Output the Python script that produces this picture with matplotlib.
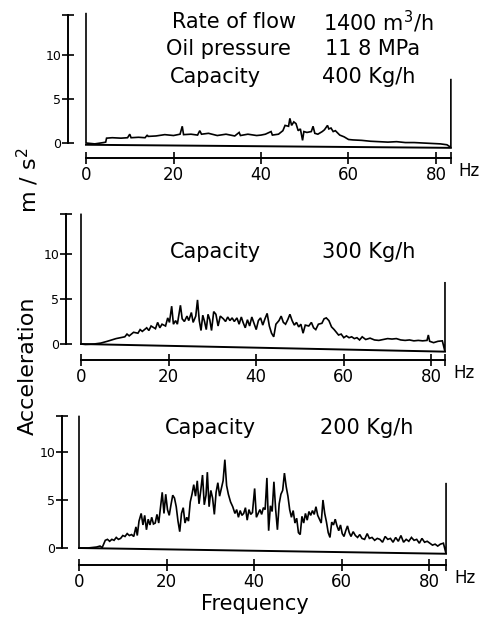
import matplotlib
matplotlib.use("Agg")
import matplotlib.pyplot as plt

W, H = 487, 619

# ---- data: acceleration spectra (m/s^2) ----
# panel 1: capacity 400 Kg/h
freq_400 = [0, 0, 2, 4, 4.5, 4.7, 6, 8, 9.5, 10,
            10.3, 12, 13.5, 14, 14.2, 16, 18, 20, 21.5, 22,
            22.3, 24, 25.5, 26, 26.4, 28, 30, 32, 34, 35,
            35.3, 37, 39, 40, 41, 42.3, 42.6, 44, 45, 45.5,
            46.3, 46.6, 47, 47.5, 48, 48.5, 49, 49.5, 49.8, 50.5,
            51.5, 51.9, 52.3, 53, 54, 54.5, 55.2, 55.5, 56, 56.5,
            57, 58, 59, 60, 61, 63, 65, 67, 69, 71,
            73, 75, 77, 79, 81, 82.5, 83.4, 83.4]
acc_400 = [14.7, 0.0, -0.1, 0.05, 0.1, 0.55, 0.6, 0.55, 0.6, 1.0,
           0.6, 0.65, 0.6, 0.9, 0.75, 0.8, 0.95, 0.85, 1.0, 1.9,
           0.95, 1.0, 0.9, 1.4, 1.0, 1.1, 0.85, 1.0, 0.8, 1.2,
           0.85, 1.0, 0.85, 0.9, 1.0, 1.3, 0.9, 1.0, 1.4, 2.0,
           1.9, 2.8, 2.0, 2.4, 2.2, 1.4, 1.6, 0.3, 1.3, 1.2,
           1.3, 1.9, 1.1, 1.0, 1.3, 1.5, 2.0, 1.6, 1.7, 1.3,
           1.4, 0.9, 0.7, 0.4, 0.35, 0.3, 0.2, 0.15, 0.1, 0.15,
           0.05, 0.05, 0.0, -0.05, -0.1, -0.2, -0.5, 7.2]

# panel 2: capacity 300 Kg/h
freq_300 = [0, 0, 1, 3, 4.5, 6, 8, 10, 10.5, 11,
            12, 13, 13.5, 14, 15, 15.5, 16, 17, 17.5, 18,
            18.5, 19.3, 19.8, 20.2, 20.7, 21.1, 21.6, 22, 22.7, 23.1,
            23.6, 24.2, 24.6, 25.2, 25.6, 26.2, 26.6, 27, 27.4, 27.8,
            28.2, 28.6, 29, 29.4, 29.8, 30.3, 30.8, 31.3, 31.8, 32.5,
            33, 33.5, 34, 34.5, 35, 35.6, 36.1, 36.6, 37, 37.5,
            38, 38.5, 39, 39.5, 40, 40.5, 41, 41.5, 42, 42.5,
            43, 43.5, 44, 44.5, 45.2, 45.7, 46.2, 46.7, 47.2, 47.7,
            48.2, 48.7, 49.2, 49.7, 50.2, 50.7, 51.2, 52, 52.6, 53.1,
            53.6, 54.2, 55, 55.5, 56, 56.6, 57.2, 57.8, 58.3, 58.8,
            59.4, 60, 60.6, 61.2, 61.8, 62.4, 63, 63.6, 64.2, 65,
            66, 67, 68, 69, 70, 71, 72, 73, 74, 75,
            76, 77, 78, 79, 79.3, 79.6, 80.5, 81.5, 82.5, 83.1,
            83.1]
acc_300 = [14.4, 0.0, -0.05, 0.0, 0.1, 0.3, 0.6, 0.8, 1.1, 0.9,
           1.3, 1.2, 1.6, 1.4, 1.8, 1.5, 2.0, 1.7, 2.4, 1.8,
           2.2, 2.0, 2.9, 2.4, 4.2, 2.2, 2.6, 2.2, 4.3, 2.8,
           2.5, 3.1, 2.6, 3.5, 2.4, 3.1, 4.9, 2.6, 1.5, 3.2,
           2.5, 1.6, 3.3, 2.7, 1.5, 3.6, 3.3, 2.0, 3.1, 2.8,
           2.5, 3.0, 2.6, 2.9, 2.5, 2.9, 2.2, 3.0, 2.4, 1.8,
           2.7, 2.0, 3.0, 2.3, 1.6, 2.6, 2.9, 2.1, 2.8, 3.4,
           2.0, 1.2, 0.8, 2.2, 2.6, 3.1, 2.4, 2.2, 2.7, 3.3,
           2.6, 2.1, 2.4, 1.9, 2.2, 1.2, 2.1, 2.0, 2.4, 1.8,
           1.6, 2.2, 2.3, 2.8, 2.9, 2.6, 1.9, 1.6, 1.3, 1.0,
           1.1, 0.7, 0.9, 0.7, 0.8, 0.6, 0.7, 0.45, 0.8, 0.5,
           0.65, 0.45, 0.4, 0.5, 0.6, 0.55, 0.6, 0.45, 0.4, 0.45,
           0.35, 0.4, 0.35, 0.4, 1.0, 0.3, 0.15, 0.3, 0.35, -0.85,
           6.8]

# panel 3: capacity 200 Kg/h
freq_200 = [0, 0, 2, 4, 4.8, 5.3, 6, 6.5, 7, 7.5,
            8, 8.5, 9, 9.5, 10, 10.5, 11, 11.5, 12, 12.5,
            13, 13.3, 13.7, 14.2, 14.6, 15, 15.4, 15.8, 16.2, 16.6,
            17, 17.4, 17.8, 18.2, 18.6, 19, 19.4, 19.8, 20.2, 20.6,
            21, 21.4, 21.8, 22.2, 22.6, 23, 23.4, 23.8, 24.2, 24.6,
            25, 25.4, 25.8, 26.2, 26.6, 27, 27.4, 27.8, 28.2, 28.6,
            29, 29.3, 29.7, 30.1, 30.5, 30.9, 31.3, 31.7, 32.1, 32.5,
            32.9, 33.3, 33.7, 34.1, 34.6, 35.1, 35.6, 36, 36.4, 36.8,
            37.2, 37.6, 38, 38.4, 38.8, 39.2, 39.6, 40.1, 40.5, 40.9,
            41.3, 41.7, 42.1, 42.5, 42.9, 43.3, 43.7, 44.1, 44.5, 44.9,
            45.3, 45.7, 46.1, 46.5, 46.9, 47.3, 47.7, 48.1, 48.5, 48.9,
            49.3, 49.7, 50.1, 50.5, 50.9, 51.3, 51.7, 52.1, 52.5, 52.9,
            53.3, 53.7, 54.1, 54.5, 54.9, 55.3, 55.7, 56.1, 56.5, 56.9,
            57.3, 57.7, 58.1, 58.5, 58.9, 59.3, 59.7, 60.1, 60.5, 60.9,
            61.3, 61.7, 62.1, 62.6, 63.1, 63.6, 64.1, 64.6, 65.2, 65.8,
            66.3, 66.9, 67.5, 68.1, 68.7, 69.3, 69.9, 70.5, 71.1, 71.7,
            72.3, 72.9, 73.5, 74.1, 74.7, 75.3, 75.9, 76.5, 77.1, 77.7,
            78.3, 78.9, 79.5, 80.1, 80.7, 81.3, 81.9, 82.5, 83.2, 83.8,
            83.8]
acc_200 = [13.7, 0.0, 0.0, 0.1, 0.2, 0.05, 0.8, 0.9, 0.7, 0.9,
           0.8, 1.1, 0.9, 1.0, 1.3, 1.2, 1.5, 1.3, 1.4, 1.2,
           2.2, 1.3, 2.8, 3.6, 2.4, 3.4, 1.9, 3.0, 2.4, 3.2,
           2.5, 2.6, 3.5, 2.6, 4.2, 5.8, 3.6, 5.6, 4.0, 3.4,
           4.5, 5.5, 5.2, 4.3, 2.8, 1.7, 3.6, 4.2, 2.6, 3.2,
           2.8, 4.8, 5.6, 6.6, 5.4, 7.0, 4.6, 6.0, 7.6, 4.5,
           5.5, 7.9, 4.3, 6.0, 5.2, 3.5, 5.8, 6.8, 5.4, 6.2,
           7.0, 9.2, 6.5, 5.6, 4.8, 4.3, 3.6, 4.0, 3.2, 3.9,
           3.4, 3.6, 4.2, 2.9, 4.0, 3.5, 3.7, 6.2, 3.2, 3.6,
           4.0, 3.5, 4.2, 4.0, 7.3, 1.8, 4.4, 3.8, 6.9, 4.0,
           1.9, 4.6, 5.6, 6.0, 7.8, 6.4, 5.4, 4.0, 3.2, 3.9,
           2.6, 3.1, 1.6, 1.4, 3.3, 2.6, 3.6, 2.9, 3.8, 3.4,
           3.9, 3.5, 4.3, 3.4, 3.0, 2.6, 5.0, 3.6, 2.7, 1.6,
           1.1, 2.7, 2.4, 3.0, 2.3, 1.8, 2.4, 1.5, 1.2, 1.8,
           2.3, 1.6, 1.2, 1.7, 1.3, 1.1, 1.4, 1.0, 0.9, 1.5,
           1.0, 1.1, 0.8, 1.0, 0.9, 0.6, 1.2, 0.9, 1.0, 0.6,
           1.1, 0.7, 1.3, 0.6, 0.9, 0.7, 1.1, 0.8, 0.9, 0.5,
           1.0, 0.6, 0.7, 0.5, 0.3, 0.4, 0.2, 0.4, 0.5, -0.6,
           6.7]

# sloping zero lines drawn under each trace
base_400 = [-0.2, -0.55]
base_300 = [0.0, -0.85]
base_200 = [0.0, -0.6]

freq_ticks = [0, 20, 40, 60, 80]
acc_ticks = [0, 5, 10]

# ---- layout (pixels in the 487x619 picture) ----
# x_zero, px_per_hz, y_zero, px_per_unit, axis_x, ruler_y, top_y, f_end
layouts = [
    (86, 4.375, 143, 8.8, 68, 158, 15, 83.4),
    (81, 4.38, 344, 9.0, 66, 360, 214, 83.1),
    (79, 4.38, 548, 9.6, 62, 565, 416, 83.8),
]
traces = [(freq_400, acc_400, base_400),
          (freq_300, acc_300, base_300),
          (freq_200, acc_200, base_200)]

fig = plt.figure(figsize=(W / 100, H / 100), dpi=100)

for (x0, phz, y0, pu, axx, ry, ty, fend), (fr, ac, base) in zip(layouts, traces):
    xmin = -(x0 - axx) / phz
    xmax = fend + 3.5
    ymin = -(ry - y0) / pu
    ytop = (y0 - ty) / pu
    ymax = ytop + 0.6
    right = x0 + xmax * phz
    top = y0 - ymax * pu
    ax = fig.add_axes([axx / W, 1 - ry / H, (right - axx) / W, (ry - top) / H])
    ax.set_xlim(xmin, xmax)
    ax.set_ylim(ymin, ymax)

    ax.plot(fr, ac, color="black", lw=1.2, clip_on=False, solid_joinstyle="miter")
    ax.plot([0, fend], base, color="black", lw=1.4, clip_on=False)

    for s in ["top", "right"]:
        ax.spines[s].set_visible(False)
    ax.spines["left"].set_bounds(0, ytop)
    ax.spines["bottom"].set_bounds(0, fend)
    for s in ["left", "bottom"]:
        ax.spines[s].set_linewidth(1.4)

    ax.set_xticks(freq_ticks)
    ax.set_xticks([fend], minor=True)
    ax.set_yticks(acc_ticks)
    ax.set_yticks([ytop], minor=True)
    ax.tick_params(axis="x", which="both", direction="inout", length=9, width=1.2,
                   labelsize=12, pad=1)
    ax.tick_params(axis="y", which="both", direction="inout", length=8, width=1.2,
                   labelsize=9, pad=1)
    ax.patch.set_visible(False)

    fig.text((x0 + fend * phz + 8) / W, 1 - (ry + 13) / H, "Hz",
             fontsize=12, va="center", ha="left")

# annotations
def ptext(x, y, s, size=15, ha="left"):
    fig.text(x / W, 1 - y / H, s, fontsize=size, ha=ha, va="center")

ptext(172, 22, "Rate of flow")
ptext(323, 22, "1400 m$^3$/h")
ptext(166, 49, "Oil pressure")
ptext(325, 49, "11 8 MPa")
ptext(170, 77, "Capacity")
ptext(322, 77, "400 Kg/h")
ptext(170, 252, "Capacity")
ptext(322, 252, "300 Kg/h")
ptext(165, 428, "Capacity")
ptext(320, 428, "200 Kg/h")

fig.text(28 / W, 1 - 366 / H, "Acceleration", rotation=90, fontsize=16,
         ha="center", va="center")
fig.text(28 / W, 1 - 180 / H, "m / s$^2$", rotation=90, fontsize=16,
         ha="center", va="center")
fig.text(255 / W, 1 - 604 / H, "Frequency", fontsize=15, ha="center", va="center")

fig.savefig("out.png", dpi=100)
